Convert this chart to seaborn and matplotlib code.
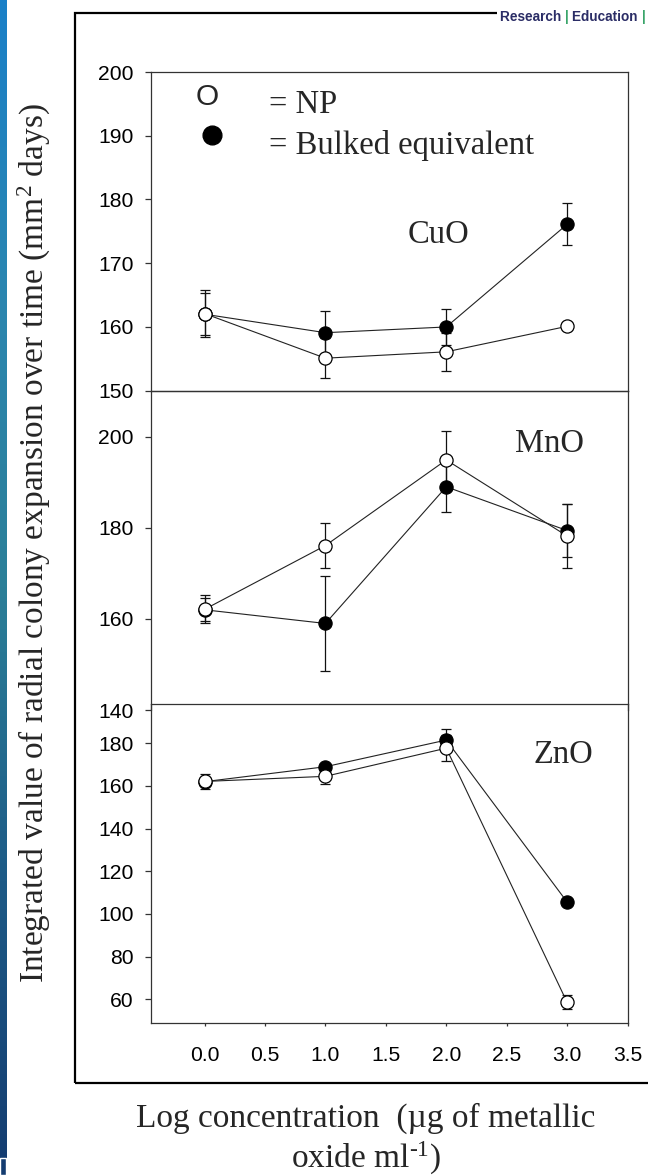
import matplotlib
matplotlib.use("Agg")
import matplotlib.pyplot as plt
import seaborn as sns
import numpy as np
import pandas as pd
from matplotlib.patches import Rectangle
from matplotlib.colors import LinearSegmentedColormap

# ---------------- data ----------------
log_conc = [0.0, 1.0, 2.0, 3.0]
oxides = ["CuO", "MnO", "ZnO"]

cuo_np = [162.1, 155.1, 156.1, 160.1]
cuo_np_err = [3.7, 3.1, 3.0, 0.6]
cuo_bulk = [162.0, 159.1, 160.0, 176.1]
cuo_bulk_err = [3.3, 3.4, 2.8, 3.3]

mno_np = [162.1, 176.1, 194.9, 178.2]
mno_np_err = [3.1, 4.9, 6.4, 7.0]
mno_bulk = [162.0, 159.0, 189.0, 179.4]
mno_bulk_err = [2.5, 10.5, 5.6, 5.8]

zno_np = [162.1, 164.5, 177.7, 58.6]
zno_np_err = [3.4, 3.4, 6.0, 3.3]
zno_bulk = [162.0, 169.0, 181.5, 105.6]
zno_bulk_err = [1.5, 1.5, 5.1, 1.5]

x_ticks = [0.0, 0.5, 1.0, 1.5, 2.0, 2.5, 3.0, 3.5]
y_ticks = {"CuO": [150, 160, 170, 180, 190, 200],
           "MnO": [140, 160, 180, 200],
           "ZnO": [60, 80, 100, 120, 140, 160, 180]}
y_lims = {"CuO": (150, 200), "MnO": (140, 210.1), "ZnO": (48.75, 198.4)}

series = {
    "CuO": (cuo_np, cuo_np_err, cuo_bulk, cuo_bulk_err),
    "MnO": (mno_np, mno_np_err, mno_bulk, mno_bulk_err),
    "ZnO": (zno_np, zno_np_err, zno_bulk, zno_bulk_err),
}

# ---------------- style ----------------
sns.set_style("ticks")
plt.rcParams['font.family'] = ['Liberation Sans', 'DejaVu Sans']
plt.rcParams['mathtext.fontset'] = 'custom'
plt.rcParams['mathtext.rm'] = 'Liberation Serif'
plt.rcParams['mathtext.it'] = 'Liberation Serif:italic'
SERIF = ['Liberation Serif', 'DejaVu Serif']

W, H = 648, 1175
fig = plt.figure(figsize=(W / 100, H / 100), dpi=100)
fig.patch.set_facecolor("white")

def fx(px):
    return px / W

def fy(py):
    return 1 - py / H

# blue slide stripe on the left
sax = fig.add_axes([0, 0, fx(7), 1])
cmap = LinearSegmentedColormap.from_list("slide", ["#1a80c8", "#2a86b0", "#2b7f98", "#1d5a86", "#143c70"])
sax.imshow(np.linspace(0, 1, 256).reshape(-1, 1), aspect="auto", cmap=cmap, extent=[0, 1, 0, 1])
sax.set_axis_off()
fig.patches.append(Rectangle((0, fy(1175)), fx(6), fy(1158) - fy(1175), transform=fig.transFigure,
                             fill=False, edgecolor="white", lw=1.0, zorder=5))

# outer frame
fig.patches.append(Rectangle((fx(75), fy(1082.7)), 1.2, fy(13.3) - fy(1082.7), transform=fig.transFigure,
                             fill=False, edgecolor="black", lw=1.6, zorder=1))
# logo area
fig.patches.append(Rectangle((fx(497), fy(26)), 1.0, 1.0, transform=fig.transFigure,
                             facecolor="white", edgecolor="none", zorder=2))

left, right = 150.7, 627.5
panels_px = {"CuO": (72, 390.7), "MnO": (390.7, 710), "ZnO": (704, 1023.3)}
label_pos = {"CuO": (0.6026, 0.4644), "MnO": (0.836, 0.809), "ZnO": (0.865, 0.8143)}

axes = {}
for ox in oxides:
    top, bot = panels_px[ox]
    ax = fig.add_axes([fx(left), fy(bot), fx(right) - fx(left), fy(top) - fy(bot)])
    ax.set_facecolor("none")
    axes[ox] = ax
    npv, npe, bkv, bke = series[ox]
    df = pd.DataFrame({"conc": log_conc * 2,
                       "value": npv + bkv,
                       "form": ["NP"] * 4 + ["Bulk"] * 4})
    ax.errorbar(log_conc, bkv, yerr=bke, fmt="none", ecolor="#111111", elinewidth=0.9,
                capsize=3.6, capthick=0.9, zorder=2)
    ax.errorbar(log_conc, npv, yerr=npe, fmt="none", ecolor="#111111", elinewidth=0.9,
                capsize=3.6, capthick=0.9, zorder=2)
    sns.lineplot(data=df[df.form == "Bulk"], x="conc", y="value", ax=ax, sort=False,
                 errorbar=None, color="#222222", linewidth=0.8, marker="o", markersize=9.5,
                 markerfacecolor="black", markeredgecolor="black", markeredgewidth=0.9, zorder=3)
    sns.lineplot(data=df[df.form == "NP"], x="conc", y="value", ax=ax, sort=False,
                 errorbar=None, color="#222222", linewidth=0.8, marker="o", markersize=9.5,
                 markerfacecolor="white", markeredgecolor="black", markeredgewidth=0.9, zorder=4)
    ax.set_xlim(-0.446, 3.5)
    ax.set_ylim(*y_lims[ox])
    ax.set_yticks(y_ticks[ox])
    ax.set_xlabel("")
    ax.set_ylabel("")
    for s in ax.spines.values():
        s.set_color("#333333")
        s.set_linewidth(0.9)
    ax.tick_params(axis="y", direction="out", length=4.1, width=0.9, color="#333333",
                   pad=8.0, labelsize=15.2, labelcolor="black")
    ax.tick_params(axis="x", direction="out", length=2.5, width=0.9, color="#333333",
                   pad=13.5, labelsize=15.2, labelcolor="black")
    if ox != "ZnO":
        ax.set_xticks([])
    else:
        ax.set_xticks(x_ticks)
        ax.set_xticklabels([f"{v:.1f}" for v in x_ticks])
    ax.text(*label_pos[ox], ox, transform=ax.transAxes, ha="center", va="baseline",
            fontsize=23.5, family=SERIF)

axes["MnO"].spines["bottom"].set_visible(False)
axes["ZnO"].set_zorder(3)
axes["MnO"].set_zorder(2)
axes["CuO"].set_zorder(4)

# legend inside CuO panel
a1 = axes["CuO"]
a1.text(0.1185, 0.8965, "O", transform=a1.transAxes, ha="center", va="baseline", fontsize=21.5)
a1.plot([0.1286], [0.8023], transform=a1.transAxes, marker="o", markersize=13.5,
        color="black", linestyle="none")
a1.text(0.248, 0.8704, "= NP", transform=a1.transAxes, ha="left", va="baseline",
        fontsize=23.5, family=SERIF)
a1.text(0.248, 0.7418, "= Bulked equivalent", transform=a1.transAxes, ha="left", va="baseline",
        fontsize=23.5, family=SERIF)

# axis titles
fig.text(fx(34), fy(543.5), "Integrated value of radial colony expansion over time (mm$^{\\mathregular{2}}$ days)",
         rotation=90, ha="center", va="center", fontsize=24, family=SERIF)
fig.text(fx(366), fy(1140), "Log concentration  (\u00b5g of metallic\noxide ml$^{\\text{-1}}$)",
         ha="center", va="center", fontsize=24, family=SERIF, linespacing=1.2)

# logo text
renderer = fig.canvas.get_renderer()
xpos = fx(500)
for piece, col in [("Research ", "#2b2d66"), ("| ", "#3aa56a"), ("Education ", "#2b2d66"), ("|", "#3aa56a")]:
    t = fig.text(xpos, fy(21), piece, ha="left", va="baseline", fontsize=9.8,
                 fontweight="bold", color=col, zorder=6)
    bb = t.get_window_extent(renderer=renderer)
    xpos += bb.width / W

fig.savefig("out.png", dpi=100)
